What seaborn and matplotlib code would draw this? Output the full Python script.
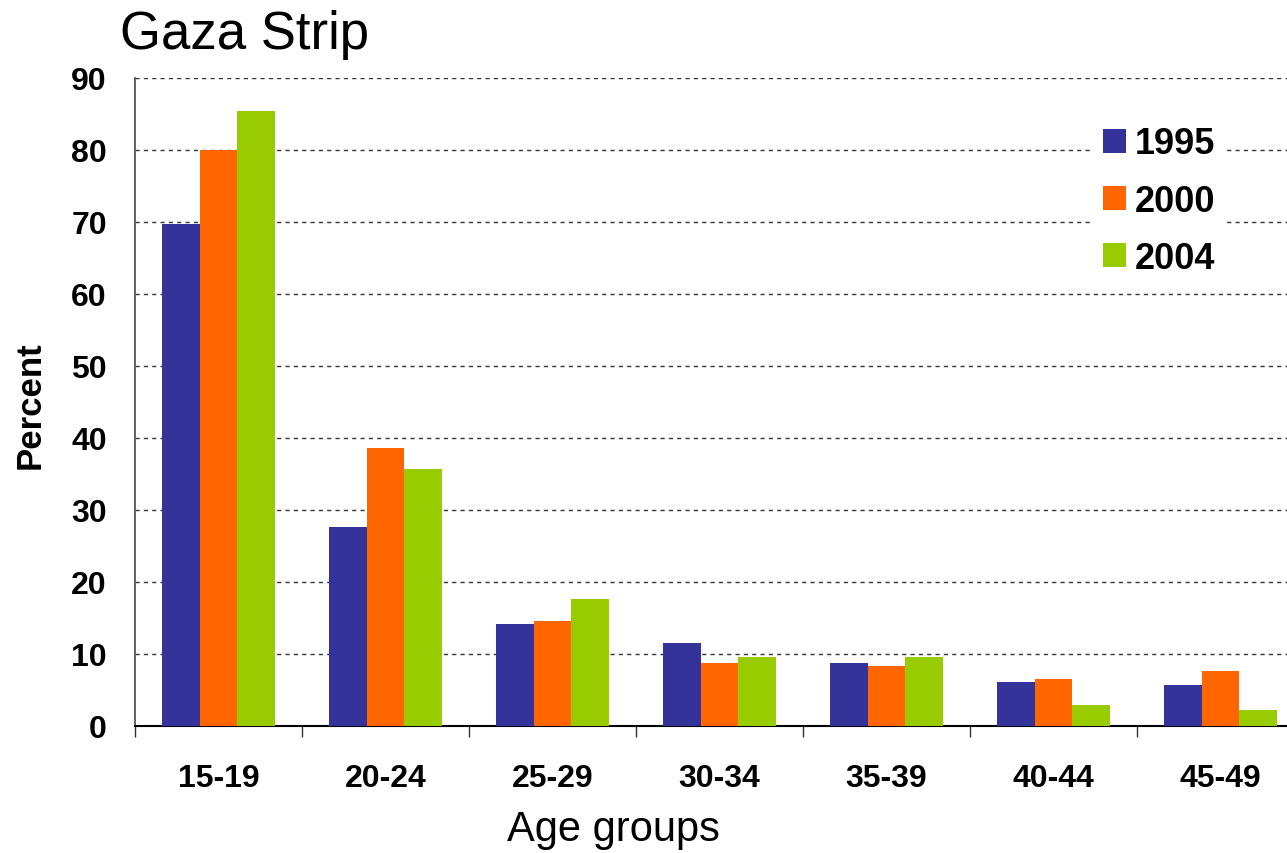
import matplotlib
matplotlib.use("Agg")
import matplotlib.pyplot as plt
from matplotlib.ticker import FixedLocator, NullFormatter
import seaborn as sns
import pandas as pd
import numpy as np

# Age-specific percentages, Gaza Strip
age_groups = ["15-19", "20-24", "25-29", "30-34", "35-39", "40-44", "45-49"]
years = ["1995", "2000", "2004"]
pct_1995 = [69.7, 27.6, 14.2, 11.5, 8.7, 6.1, 5.7]
pct_2000 = [80.0, 38.6, 14.6, 8.7, 8.3, 6.5, 7.6]
pct_2004 = [85.4, 35.7, 17.6, 9.6, 9.6, 2.9, 2.2]
bar_colors = ["#333399", "#FF6600", "#99CC00"]

df = pd.DataFrame({
    "Age": age_groups * 3,
    "Percent": pct_1995 + pct_2000 + pct_2004,
    "Year": [y for y in years for _ in age_groups],
})

sns.set_theme(style="white")
plt.rcParams["font.family"] = ["Liberation Sans", "DejaVu Sans"]
plt.rcParams["text.color"] = "black"
plt.rcParams["axes.labelcolor"] = "black"
plt.rcParams["xtick.color"] = "black"
plt.rcParams["ytick.color"] = "black"

W, H = 1287, 854
fig = plt.figure(figsize=(W / 100, H / 100), dpi=100)
ax = fig.add_axes([135 / W, 1 - 727 / H, 1169 / W, (727 - 78.5) / H])

sns.barplot(data=df, x="Age", y="Percent", hue="Year", palette=bar_colors,
            width=0.68, saturation=1, ax=ax, zorder=3, linewidth=0,
            edgecolor="none")

ax.set_ylim(0, 90)
ax.set_xlim(-0.5, len(age_groups) - 0.5)
ax.set_yticks(np.arange(0, 91, 10))

# dashed horizontal gridlines
ax.yaxis.grid(True, linestyle=(0, (3, 3)), color="#333333", linewidth=1.0, zorder=0)
ax.xaxis.grid(False)
ax.set_axisbelow(True)

# spines
for s in ["top", "right"]:
    ax.spines[s].set_visible(False)
ax.spines["left"].set_color("#555555")
ax.spines["left"].set_linewidth(1.3)
ax.spines["bottom"].set_color("#000000")
ax.spines["bottom"].set_linewidth(1.5)

# y ticks
ax.tick_params(axis="y", which="major", direction="out", length=7.2, width=1,
               color="#555555", pad=13, labelsize=23)
for lbl in ax.get_yticklabels():
    lbl.set_fontweight("bold")

# x: labels at centres, tick marks at group boundaries
ax.tick_params(axis="x", which="major", length=0, pad=27, labelsize=23)
ax.xaxis.set_minor_locator(FixedLocator(np.arange(-0.5, len(age_groups), 1.0)))
ax.xaxis.set_minor_formatter(NullFormatter())
ax.tick_params(axis="x", which="minor", direction="out", length=8, width=1,
               color="#333333", bottom=True)
for lbl in ax.get_xticklabels():
    lbl.set_fontweight("bold")

ax.set_xlabel("Age groups", fontsize=30)
ax.xaxis.set_label_coords((613 - 135) / 1169, (727 - 830) / 649)
ax.xaxis.label.set_va("center")
ax.set_ylabel("Percent", fontsize=25, fontweight="bold")
ax.yaxis.set_label_coords((30 - 135) / 1169, (727 - 405) / 649)
ax.yaxis.label.set_va("center")

# legend
handles, labels = ax.get_legend_handles_labels()
leg = ax.legend(handles, labels, loc="upper left",
                bbox_to_anchor=((1092 - 135) / 1169, (727 - 116) / 649),
                frameon=True, fancybox=False, framealpha=1, edgecolor="none",
                facecolor="white", prop={"size": 26, "weight": "bold"},
                handlelength=0.64, handleheight=0.64, handletextpad=0.25,
                labelspacing=0.62, borderpad=0.3, borderaxespad=0)
leg.set_zorder(5)

fig.text(120 / W, 1 - 49 / H, "Gaza Strip", fontsize=38, ha="left", va="baseline")

fig.savefig("out.png", dpi=100)
